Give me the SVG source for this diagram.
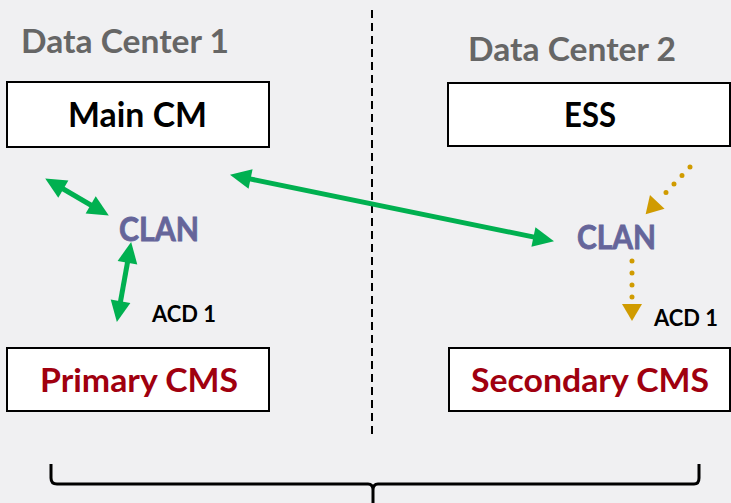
<svg xmlns="http://www.w3.org/2000/svg" width="731" height="503" viewBox="0 0 731 503">
<defs>
<style>
.bg{fill:#f0f0f2}
.box{fill:#ffffff;stroke:#000;stroke-width:2}
text{font-family:Lato,"Open Sans","Liberation Sans",sans-serif;font-weight:bold}
.dc{fill:#666666;font-size:32px}
.blk{fill:#000;font-size:34px}
.clan{fill:#65659a;font-size:33px;stroke:#65659a;stroke-width:0.8}
.acd{fill:#000;font-size:22px}
.cms{fill:#a0000f;font-size:33px}
.g{stroke:#00b050;stroke-width:5;fill:none}
.o{stroke:#d09b00;stroke-width:5;fill:none;stroke-linecap:round}
</style>
<marker id="ga" markerUnits="userSpaceOnUse" markerWidth="24" markerHeight="22" refX="2" refY="10" orient="auto-start-reverse" overflow="visible">
<path d="M0,0 L21,10 L0,20 z" fill="#00b050"/>
</marker>
<marker id="oa" markerUnits="userSpaceOnUse" markerWidth="24" markerHeight="22" refX="-4" refY="10" orient="auto" overflow="visible">
<path d="M0,0 L17,10 L0,20 z" fill="#d09b00"/>
</marker>
</defs>
<rect class="bg" x="0" y="0" width="731" height="503"/>
<line x1="372" y1="10" x2="372" y2="437" stroke="#000" stroke-width="2" stroke-dasharray="8 5"/>
<g id="dc1"><text class="dc" x="21" y="53" textLength="208" lengthAdjust="spacingAndGlyphs">Data Center 1</text></g>
<g id="dc2"><text class="dc" x="468" y="61" textLength="208" lengthAdjust="spacingAndGlyphs">Data Center 2</text></g>
<g id="maincm"><rect class="box" x="7" y="82" width="262" height="65"/><text class="blk" x="68" y="127" textLength="139" lengthAdjust="spacingAndGlyphs">Main CM</text></g>
<g id="ess"><rect class="box" x="448" y="83" width="282" height="63"/><text class="blk" x="564" y="127" textLength="52" lengthAdjust="spacingAndGlyphs">ESS</text></g>
<g id="clan1"><text class="clan" x="119" y="241" textLength="80" lengthAdjust="spacingAndGlyphs">CLAN</text></g>
<g id="clan2"><text class="clan" x="577" y="249" textLength="79" lengthAdjust="spacingAndGlyphs">CLAN</text></g>
<g id="acd1"><text class="acd" x="152" y="322" textLength="64" lengthAdjust="spacingAndGlyphs">ACD 1</text></g>
<g id="acd2"><text class="acd" x="654" y="326" textLength="64" lengthAdjust="spacingAndGlyphs">ACD 1</text></g>
<g id="pcms"><rect class="box" x="7" y="348" width="262" height="63"/><text class="cms" x="40" y="392" textLength="198" lengthAdjust="spacingAndGlyphs">Primary CMS</text></g>
<g id="scms"><rect class="box" x="449" y="348" width="281" height="63"/><text class="cms" x="471" y="392" textLength="238" lengthAdjust="spacingAndGlyphs">Secondary CMS</text></g>
<g id="connectors">
<line class="g" x1="248.6" y1="178.6" x2="535.4" y2="237.4" marker-start="url(#ga)" marker-end="url(#ga)"/>
<line class="g" x1="61.6" y1="188" x2="92.4" y2="206" marker-start="url(#ga)" marker-end="url(#ga)"/>
<line class="g" x1="127.8" y1="260.7" x2="120.2" y2="303.3" marker-start="url(#ga)" marker-end="url(#ga)"/>
<line class="o" x1="690" y1="167" x2="660" y2="199" stroke-dasharray="0 11.7" marker-end="url(#oa)"/>
<line class="o" x1="632" y1="261" x2="632" y2="300" stroke-dasharray="0 12" marker-end="url(#oa)"/>
</g>
<g id="brace"><path d="M51,464 L51,478 Q51,484 57,484 L368,484 Q373,484 373,490 L373,503 M373,490 Q373,484 378,484 L694,484 Q699,484 699,478 L699,464" fill="none" stroke="#000" stroke-width="3"/></g>
</svg>
